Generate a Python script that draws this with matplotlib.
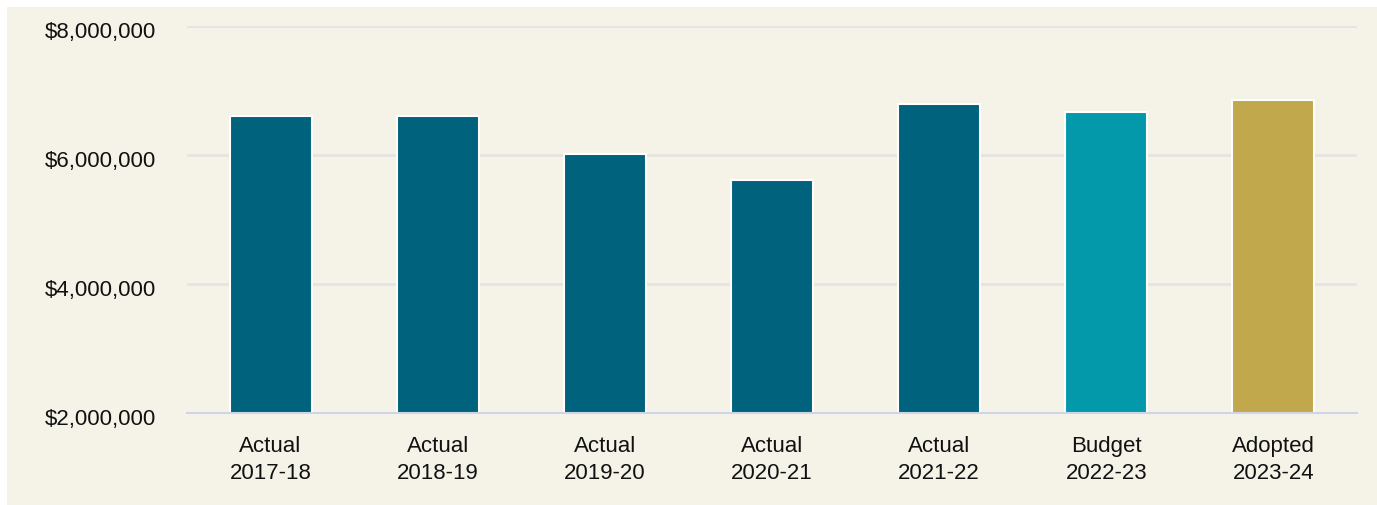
import matplotlib
matplotlib.use("Agg")
import matplotlib.pyplot as plt
from matplotlib.patches import Rectangle
from matplotlib import ticker, transforms

# data
categories = ["Actual\n2017-18", "Actual\n2018-19", "Actual\n2019-20",
              "Actual\n2020-21", "Actual\n2021-22", "Budget\n2022-23",
              "Adopted\n2023-24"]
values = [6605000, 6605000, 6015000, 5610000, 6790000, 6660000, 6850000]
bar_colors = ["#00627c"] * 5 + ["#0399aa", "#c2a84c"]
yticks = [2000000, 4000000, 6000000, 8000000]

BG = "#f5f3e8"

plt.rcParams["font.family"] = ["Liberation Sans", "DejaVu Sans"]

fig = plt.figure(figsize=(13.77, 5.06), dpi=100)
fig.patch.set_facecolor("white")
# cream panel, white strip at the top and left
fig.patches.append(Rectangle((7 / 1377, -0.01), 1.01 - 7 / 1377, 1.01 - 8 / 506,
                             transform=fig.transFigure, facecolor=BG,
                             edgecolor="none", zorder=-10))

ax = fig.add_axes([187 / 1377, 1 - 414 / 506, (1357 - 187) / 1377, (414 - 27) / 506])
ax.set_facecolor(BG)
ax.patch.set_alpha(0)

x = range(len(categories))
ax.bar(x, values, width=0.49, color=bar_colors, edgecolor="white",
       linewidth=1.5, zorder=3)

ax.set_xlim(-0.5, len(categories) - 0.5)
ax.set_ylim(2000000, 8000000)
ax.set_yticks(yticks)
ax.yaxis.set_major_formatter(ticker.FuncFormatter(lambda v, p: f"${v:,.0f}"))
ax.set_xticks(list(x))
ax.set_xticklabels(categories, linespacing=1.33)

ax.grid(axis="y", color="#e4e4e4", linewidth=2, zorder=0)
ax.grid(axis="x", visible=False)
for s in ["top", "right", "left"]:
    ax.spines[s].set_visible(False)
ax.spines["bottom"].set_color("#cdd6e8")
ax.spines["bottom"].set_linewidth(1.5)
ax.spines["bottom"].set_zorder(4)

ax.tick_params(axis="y", length=0, pad=22, labelsize=16, labelcolor="#111111")
ax.tick_params(axis="x", length=0, pad=16, labelsize=16, labelcolor="#111111")

# y labels sit a few pixels below their gridlines in the reference
shift = transforms.ScaledTranslation(0, -3 / 100, fig.dpi_scale_trans)
for lab in ax.get_yticklabels():
    lab.set_transform(lab.get_transform() + shift)

fig.savefig("out.png", dpi=100, facecolor=fig.get_facecolor())
